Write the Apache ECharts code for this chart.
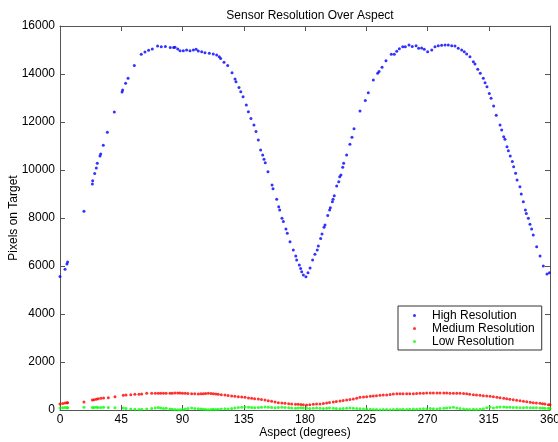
<!DOCTYPE html>
<html>
<head>
<meta charset="utf-8">
<script src="https://cdn.jsdelivr.net/npm/echarts@6/dist/echarts.min.js"></script>
<style>html,body{margin:0;padding:0;background:#fff}#c{width:558px;height:442px}</style>
</head>
<body>
<div id="c"></div>
<script>
var xTicks = [0, 45, 90, 135, 180, 225, 270, 315, 360];
var yTicks = [0, 2000, 4000, 6000, 8000, 10000, 12000, 14000, 16000];

var highAngles = [0,3.7,5.1,5.6,17.6,23.8,24,25.5,26.7,27.4,29.4,29.9,31.8,34.8,39.9,45.6,46,48.2,50,54.6,59.7,62.4,65.1,67.8,71.7,74.4,77.4,81,83.5,84.5,86.5,88.2,90.6,93,95.5,98,100,101.6,104.1,106.5,109.7,112.6,115.1,117,118,120.5,123.2,126.4,128.6,129.3,131.5,132.8,134.5,136.9,138.4,140.3,142.5,144,145.7,147.4,148.9,149.9,150.8,152.8,155.8,156.5,159.2,160.7,161.4,163.1,164.1,166,167,169,171.4,173.2,173.9,175.8,176.8,177.6,178.8,180.7,182.2,183.7,185.6,187.3,189,189.8,191.5,192.5,194,194.7,196.7,198.1,198.6,200.1,200.6,201.5,203.3,204.8,205.5,206.4,207.7,208.4,210.6,213,214.5,216,220.4,224.3,226.5,230.2,233.4,234.4,236.6,239.5,243.4,245.6,247.4,249.3,251.8,253.7,256.4,258.8,261.6,263.5,265.7,267.6,270.1,273.1,275.5,277.9,280.4,282.9,285.3,287.8,290.2,292.6,295.1,297,298.8,301.2,303.7,304.9,306.9,308.8,311,312.3,313.7,315.4,316.7,318.6,320.5,323.3,324.5,326,326.9,328.4,329.4,330.8,332.3,333.3,334.7,335.8,337.9,338.9,340.4,341.9,342.6,344.1,345.3,346.5,347.7,350.2,352.7,355.1,357.8,359.6];
var highValues = [5560,5860,6080,6170,8280,9420,9555,9850,10080,10280,10580,10670,11030,11570,12420,13250,13330,13610,13820,14350,14820,14920,14990,15040,15170,15140,15150,15100,15100,15110,15040,14970,14970,15000,14970,15000,15030,14960,14930,14890,14860,14830,14790,14720,14650,14490,14350,14050,13790,13680,13440,13260,13050,12710,12430,12150,11875,11600,11250,10830,10625,10445,10300,9930,9375,9220,8780,8470,8330,7990,7850,7540,7360,7010,6670,6420,6250,6040,5900,5760,5625,5555,5720,5915,6250,6485,6670,6830,7150,7330,7610,7710,8100,8330,8430,8680,8780,8930,9330,9510,9720,9790,10110,10280,10625,11070,11360,11720,12460,12900,13220,13750,14030,14100,14280,14550,14820,14820,14945,15055,15140,15140,15210,15150,15180,15070,15080,15030,14930,15000,15140,15180,15195,15210,15210,15180,15170,15070,15000,14930,14830,14720,14510,14420,14200,14030,13820,13640,13470,13190,12990,12670,12280,11875,11670,11390,11280,10970,10800,10580,10350,10140,9860,9580,9300,9000,8680,8330,8190,7990,7740,7540,7290,6800,6420,6000,5670,5720];

var medAngles = [0,2,3.7,5.1,5.6,17.6,23.8,25,26.7,28,30,32,35.5,40.4,46.5,48.5,52,55,58,60,63.7,67.4,70,72.2,74,76,78,80.8,82.5,84.5,86.5,88.2,90,92,94,96.7,99,101.6,103.5,105.3,107,109,111,112.7,114.5,116.3,118.5,121.2,123.5,126.1,128.5,131,133.5,135.9,138.5,140.8,143,145.7,148,150.6,153,155.5,158,160.4,163,165.3,168,170.2,173,175,177,178.8,181.2,183.5,186.1,188.5,191,193.5,195.9,198,200.8,203,205.7,208,210.6,213,215.5,218,220.4,223,225.3,228,230.2,232.5,235.1,237.5,240,242.5,244.9,247.5,249.8,252,254.7,257,259.6,262,264.5,267,269.4,272,274.3,277,279.2,282,284.1,286.5,289,291.5,293.9,296.5,298.8,301,303.7,306,308.6,311,313.5,316,318.4,321,323.3,326,328.2,330.5,333,335.5,338,340.5,342.9,345.5,347.7,350,352.6,354.5,356.3,358.8,360];
var medValues = [250,270,290,300,300,333,417,430,450,470,490,500,514,556,611,625,640,653,660,667,694,694,700,694,700,694,700,694,700,708,708,708,700,694,690,680,675,667,675,680,690,694,690,680,665,653,640,625,600,583,570,556,540,528,505,486,470,458,440,417,390,361,330,306,290,278,265,250,240,236,230,222,208,220,236,245,250,270,292,310,333,355,375,395,417,435,458,490,528,540,556,570,583,598,611,620,625,645,667,675,680,680,680,680,680,690,694,700,708,708,708,708,708,708,708,700,694,694,694,690,680,660,639,625,611,597,583,570,556,535,514,493,472,450,431,410,389,368,347,325,306,292,278,264,250,222,215];
var lowValues = [80,90,100,90,90,110,100,100,110,100,100,110,100,90,80,60,40,30,20,30,40,60,80,100,80,60,70,40,30,20,10,10,20,40,60,80,60,50,40,30,20,10,20,30,20,30,40,50,40,60,80,100,110,120,110,100,90,100,110,120,110,100,90,100,110,100,90,80,70,80,90,80,70,60,70,80,70,60,70,80,70,60,50,60,70,80,70,60,50,40,40,30,20,20,10,20,20,10,20,30,20,30,20,30,40,30,40,50,40,60,50,40,60,70,80,90,110,80,60,40,30,20,30,20,30,50,90,120,80,110,120,120,110,110,100,100,90,90,100,90,90,90,80,80,70,70,60];

var seriesNames = ['High Resolution', 'Medium Resolution', 'Low Resolution'];
var seriesColors = ['#0000ff', '#ff0000', '#00ff00'];

function pairs(xs, ys) { return xs.map(function (x, i) { return [x, ys[i]]; }); }

var FONT = 'Liberation Sans, Arial, sans-serif';
var axisColor = '#555555';

var chart = echarts.init(document.getElementById('c'), null, { renderer: 'canvas' });
var baseX = {
  type: 'value', min: 0, max: 360, interval: 45,
  axisLine: { show: true, onZero: false, lineStyle: { color: axisColor, width: 1 } },
  axisTick: { show: true, inside: true, length: 5, lineStyle: { color: axisColor } },
  splitLine: { show: false }
};
var baseY = {
  type: 'value', min: 0, max: 16000, interval: 2000,
  axisLine: { show: true, onZero: false, lineStyle: { color: axisColor, width: 1 } },
  axisTick: { show: true, inside: true, length: 5, lineStyle: { color: axisColor } },
  splitLine: { show: false }
};

chart.setOption({
  animation: false,
  backgroundColor: '#ffffff',
  title: {
    text: 'Sensor Resolution Over Aspect',
    left: 305, top: 5, textAlign: 'center',
    textStyle: { fontFamily: FONT, fontSize: 12, fontWeight: 'normal', color: '#000' }
  },
  grid: { left: 60, right: 8, top: 26, bottom: 32, containLabel: false, outerBoundsMode: 'none' },
  legend: {
    data: seriesNames.map(function (n) { return { name: n, icon: 'circle' }; }),
    orient: 'vertical',
    left: 398, top: 306,
    padding: [3, 7, 2, 15],
    itemWidth: 3, itemHeight: 3, itemGap: 0,
    backgroundColor: '#ffffff',
    borderColor: '#333333', borderWidth: 1,
    textStyle: { fontFamily: FONT, fontSize: 12, color: '#000', lineHeight: 13, padding: [0, 0, 0, 11] }
  },
  xAxis: [
    Object.assign({}, baseX, {
      position: 'bottom',
      axisLabel: { show: true, color: '#000', fontFamily: FONT, fontSize: 12, margin: 4 },
      name: 'Aspect (degrees)', nameLocation: 'middle', nameGap: 17, nameMoveOverlap: false,
      nameTextStyle: { fontFamily: FONT, fontSize: 12, color: '#000' }
    }),
    Object.assign({}, baseX, { position: 'top', axisLabel: { show: false } })
  ],
  yAxis: [
    Object.assign({}, baseY, {
      position: 'left',
      axisLabel: { show: true, color: '#000', fontFamily: FONT, fontSize: 12, margin: 5,
        formatter: function (v) { return String(v); } },
      name: 'Pixels on Target', nameLocation: 'middle', nameGap: 40, nameMoveOverlap: false,
      nameTextStyle: { fontFamily: FONT, fontSize: 12, color: '#000' }
    }),
    Object.assign({}, baseY, { position: 'right', axisLabel: { show: false } })
  ],
  series: [
    { name: seriesNames[0], type: 'scatter', symbol: 'circle', symbolSize: 3,
      itemStyle: { color: seriesColors[0] }, data: pairs(highAngles, highValues) },
    { name: seriesNames[1], type: 'scatter', symbol: 'circle', symbolSize: 3,
      itemStyle: { color: seriesColors[1] }, data: pairs(medAngles, medValues) },
    { name: seriesNames[2], type: 'scatter', symbol: 'circle', symbolSize: 3,
      itemStyle: { color: seriesColors[2] }, data: pairs(medAngles, lowValues) }
  ]
});
</script>
</body>
</html>
